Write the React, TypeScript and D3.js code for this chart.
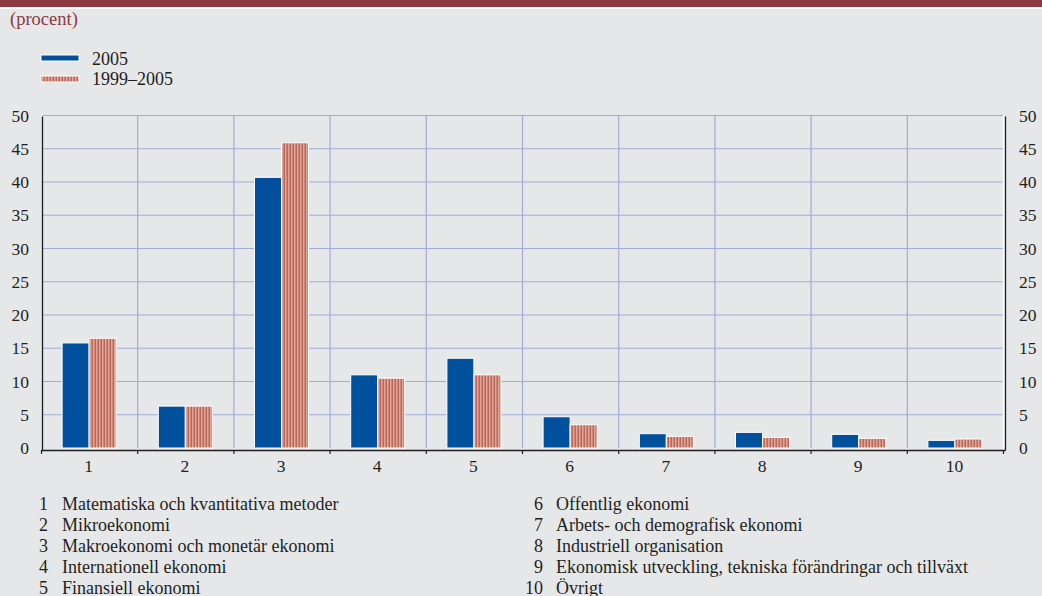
import React from "react";
import * as d3 from "d3";

const categories = ["1", "2", "3", "4", "5", "6", "7", "8", "9", "10"];
const values2005 = [15.8, 6.3, 40.7, 11.0, 13.5, 4.7, 2.15, 2.35, 2.05, 1.15];
const values9905 = [16.5, 6.3, 45.9, 10.5, 11.0, 3.5, 1.75, 1.6, 1.45, 1.35];
const yTicks = [0, 5, 10, 15, 20, 25, 30, 35, 40, 45, 50];
const seriesNames = ["2005", "1999–2005"];
const notesLeft = [
  "Matematiska och kvantitativa metoder",
  "Mikroekonomi",
  "Makroekonomi och monetär ekonomi",
  "Internationell ekonomi",
  "Finansiell ekonomi",
];
const notesRight = [
  "Offentlig ekonomi",
  "Arbets- och demografisk ekonomi",
  "Industriell organisation",
  "Ekonomisk utveckling, tekniska förändringar och tillväxt",
  "Övrigt",
];

const W = 1042;
const H = 596;
const BG = "#e6e7e9";
const RED = "#8c3a3f";
const BLUE = "#00509e";
const GRID = "#a3acd8";
const TXT = "#231f20";
const FONT = "Liberation Serif, DejaVu Serif, serif";

export default function App() {
  const x = d3.scaleBand<string>().domain(categories).range([41.5, 1003.5]);
  const y = d3.scaleLinear().domain([0, 50]).range([448, 115.5]);
  const bw = 27;
  const bounds = d3.range(categories.length + 1).map((i) => 41.5 + i * x.bandwidth());
  const ts = { fontFamily: FONT };
  const NF = 18;
  const TF = 17.5;

  return (
    <svg
      width={W}
      height={H}
      style={{ position: "absolute", left: 0, top: 0, display: "block", fontFamily: FONT }}
    >
      <defs>
        <pattern id="stripes" patternUnits="userSpaceOnUse" width={3} height={10}>
          <rect x={0} y={0} width={3} height={10} fill="#dca898" />
          <rect x={1.5} y={0} width={1.5} height={10} fill="#bf655a" />
        </pattern>
      </defs>
      <rect x={0} y={0} width={W} height={H} fill={BG} />
      <rect x={0} y={0} width={W} height={7} fill={RED} />
      <rect x={0} y={7} width={W} height={2} fill="#ffffff" />
      <text x={10} y={25} fontSize={18.5} fill={RED} style={ts}>(procent)</text>

      {/* legend */}
      <rect x={41} y={55} width={38} height={6} fill={BLUE} stroke="#fff" strokeWidth={1} />
      <text x={92} y={65} fontSize={NF} fill={TXT} style={ts}>{seriesNames[0]}</text>
      <rect x={41} y={76} width={38} height={6} fill="url(#stripes)" stroke="#fff" strokeWidth={1} />
      <text x={92} y={85} fontSize={NF} fill={TXT} style={ts}>{seriesNames[1]}</text>

      {/* grid */}
      {yTicks.filter((t) => t > 0).map((t) => (
        <line key={"h" + t} x1={43} x2={1003} y1={y(t)} y2={y(t)} stroke={GRID} strokeWidth={1.2} />
      ))}
      {bounds.slice(1, -1).map((b, i) => (
        <line key={"v" + i} x1={b} x2={b} y1={y(50)} y2={y(0)} stroke={GRID} strokeWidth={1.2} />
      ))}
      <line x1={1003.5} x2={1003.5} y1={y(50)} y2={450} stroke="#fff" strokeWidth={1.5} />

      {/* bars */}
      {categories.map((c, i) => {
        const cx = (x(c) as number) + x.bandwidth() / 2 - 0.5;
        return (
          <g key={"b" + c}>
            <rect
              x={cx - bw}
              y={y(values2005[i])}
              width={bw}
              height={y(0) - y(values2005[i])}
              fill={BLUE}
              stroke="#fff"
              strokeWidth={1}
            />
            <rect
              x={cx}
              y={y(values9905[i])}
              width={bw}
              height={y(0) - y(values9905[i])}
              fill="url(#stripes)"
              stroke="#fff"
              strokeWidth={1}
            />
          </g>
        );
      })}

      {/* axes */}
      <line x1={42.5} x2={42.5} y1={y(50) + 1} y2={450.5} stroke={TXT} strokeWidth={1.3} />
      <line x1={1005.5} x2={1005.5} y1={y(50) + 1} y2={450.5} stroke={TXT} strokeWidth={1.3} />
      <line x1={41.5} x2={1005.5} y1={450.5} y2={450.5} stroke={TXT} strokeWidth={1.3} />
      {bounds.map((b, i) => (
        <line key={"t" + i} x1={b} x2={b} y1={450} y2={454} stroke={TXT} strokeWidth={1.2} />
      ))}

      {yTicks.map((t) => (
        <g key={"yl" + t}>
          <text x={29} y={y(t) + 6} fontSize={TF} textAnchor="end" fill={TXT} style={ts}>{t}</text>
          <text x={1019} y={y(t) + 6} fontSize={TF} textAnchor="start" fill={TXT} style={ts}>{t}</text>
        </g>
      ))}
      {categories.map((c) => (
        <text
          key={"xl" + c}
          x={(x(c) as number) + x.bandwidth() / 2 - 1}
          y={472}
          fontSize={TF}
          textAnchor="middle"
          fill={TXT}
          style={ts}
        >
          {c}
        </text>
      ))}

      {/* notes */}
      {notesLeft.map((n, i) => (
        <g key={"nl" + i}>
          <text x={48} y={510 + i * 21} fontSize={NF} textAnchor="end" fill={TXT} style={ts}>{categories[i]}</text>
          <text x={62} y={510 + i * 21} fontSize={NF} fill={TXT} style={ts}>{n}</text>
        </g>
      ))}
      {notesRight.map((n, i) => (
        <g key={"nr" + i}>
          <text x={543} y={510 + i * 21} fontSize={NF} textAnchor="end" fill={TXT} style={ts}>{categories[i + 5]}</text>
          <text x={556} y={510 + i * 21} fontSize={NF} fill={TXT} style={ts}>{n}</text>
        </g>
      ))}
    </svg>
  );
}
